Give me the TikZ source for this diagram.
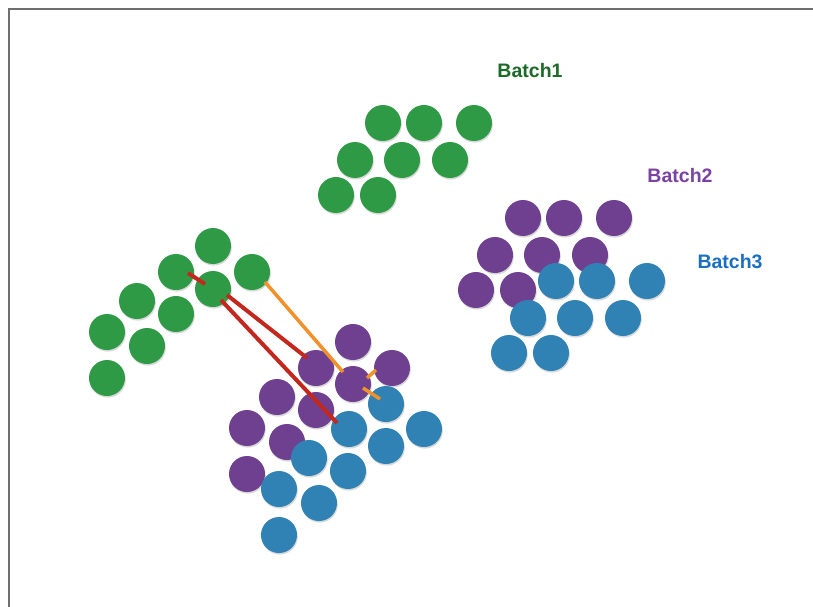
\documentclass[tikz,border=0pt]{standalone}
\usepackage{fontspec}
\setmainfont{Liberation Sans}
\usetikzlibrary{shadows}
\definecolor{cgreen}{HTML}{2F9A45}
\definecolor{cpurple}{HTML}{6F3F90}
\definecolor{cblue}{HTML}{2F82B3}
\definecolor{tgreen}{HTML}{1C6B28}
\definecolor{tpurple}{HTML}{7A42A2}
\definecolor{tblue}{HTML}{1B6FC2}
\definecolor{cred}{HTML}{C3281F}
\definecolor{corange}{HTML}{F0912B}
\definecolor{cframe}{HTML}{6E6E6E}
\begin{document}
\begin{tikzpicture}[x=1pt,y=-1pt,
  dot/.style={circle,inner sep=0pt,minimum size=36pt,fill=#1,
    drop shadow={opacity=0.3,shadow xshift=0.8pt,shadow yshift=-1.6pt}},
  lbl/.style={font=\bfseries\fontsize{19.5}{22}\selectfont,text=#1,inner sep=0pt},
  redline/.style={draw=cred,line width=4pt},
  orangeline/.style={draw=corange,line width=3.5pt}]
\useasboundingbox (0,0) rectangle (813,607);
\fill[white] (0,0) rectangle (813,607);
\draw[cframe,line width=2pt] (813,9) -- (9,9) -- (9,607);
% row-pattern batches (upper right)
\foreach \dx/\dy [count=\i] in {0/0,41/0,91/0,-28/37,19/37,67/37,-47/72,-5/72}
  \node[dot=cgreen] (ga-\i) at (383+\dx,123+\dy) {};
\foreach \dx/\dy [count=\i] in {0/0,41/0,91/0,-28/37,19/37,67/37,-47/72,-5/72}
  \node[dot=cpurple] (pa-\i) at (523+\dx,218+\dy) {};
\foreach \dx/\dy [count=\i] in {0/0,41/0,91/0,-28/37,19/37,67/37,-47/72,-5/72}
  \node[dot=cblue] (ba-\i) at (556+\dx,281+\dy) {};
% slanted batches (left / bottom)
\foreach \dx/\dy [count=\i] in {0/0,-37/26,39/26,0/43,-76/55,-37/68,-106/86,-66/100,-106/132}
  \node[dot=cgreen] (gb-\i) at (213+\dx,246+\dy) {};
\foreach \dx/\dy [count=\i] in {0/0,-37/26,39/26,0/42,-76/55,-37/68,-106/86,-66/100,-106/132}
  \node[dot=cpurple] (pb-\i) at (353+\dx,342+\dy) {};
\foreach \dx/\dy [count=\i] in {0/0,-37/25,38/25,0/42,-77/54,-38/67,-107/85,-67/99,-107/131}
  \node[dot=cblue] (bb-\i) at (386+\dx,404+\dy) {};
% labels
\node[lbl=tgreen] (l1) at (530,71) {Batch1};
\node[lbl=tpurple] (l2) at (680,176) {Batch2};
\node[lbl=tblue] (l3) at (730,262) {Batch3};
% connector end points
\coordinate (r1a) at (188,273); \coordinate (r1b) at (205,284);
\coordinate (r2a) at (227,295); \coordinate (r2b) at (307,358);
\coordinate (r3a) at (221,300); \coordinate (r3b) at (337,423);
\coordinate (o1a) at (265,282); \coordinate (o1b) at (343,372);
\coordinate (o2a) at (367,378); \coordinate (o2b) at (376,370);
\coordinate (o3a) at (363,388); \coordinate (o3b) at (380,399);
\draw[redline] (r1a) -- (r1b);
\draw[redline] (r2a) -- (r2b);
\draw[redline] (r3a) -- (r3b);
\draw[orangeline] (o1a) -- (o1b);
\draw[orangeline] (o2a) -- (o2b);
\draw[orangeline] (o3a) -- (o3b);
\end{tikzpicture}
\end{document}
